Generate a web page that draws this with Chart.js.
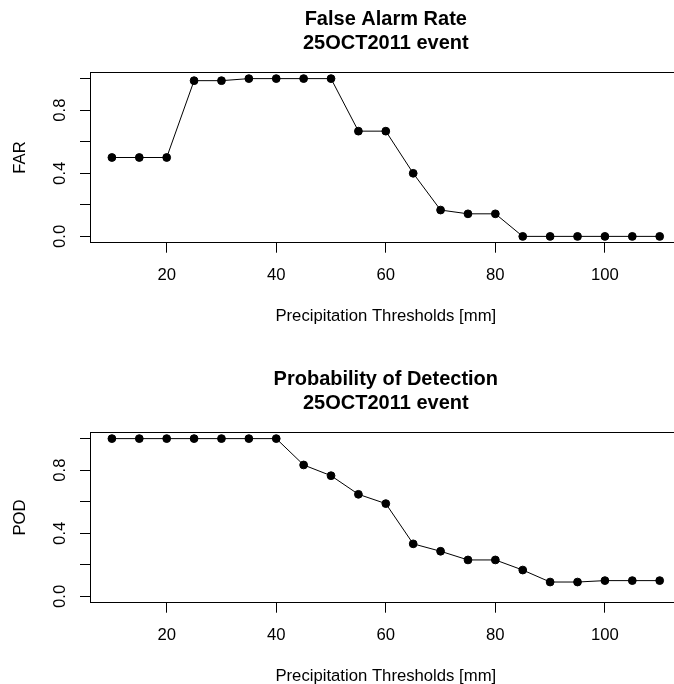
<!DOCTYPE html>
<html>
<head>
<meta charset="utf-8">
<script src="https://cdn.jsdelivr.net/npm/chart.js@4/dist/chart.umd.min.js"></script>
<style>
html,body{margin:0;padding:0;background:#fff;overflow:hidden;}
#wrap{position:relative;width:674px;height:684px;overflow:hidden;background:#fff;}
canvas{position:absolute;left:0;}
#c1{top:0;}
#c2{top:360px;}
</style>
</head>
<body>
<div id="wrap">
<canvas id="c1" width="700" height="360"></canvas>
<canvas id="c2" width="700" height="360"></canvas>
</div>
<script>
// ---- data ----
const thresholds = [10,15,20,25,30,35,40,45,50,55,60,65,70,75,80,85,90,95,100,105,110];
const farValues = [0.5,0.5,0.5,0.987,0.987,1,1,1,1,0.667,0.667,0.4,0.167,0.143,0.143,0,0,0,0,0,0];
const podValues = [1,1,1,1,1,1,1,0.833,0.765,0.647,0.588,0.333,0.286,0.231,0.231,0.167,0.091,0.091,0.1,0.1,0.1];
const xTickValues = [20,40,60,80,100];
const xTickLabels = ["20","40","60","80","100"];
const yTickValues = [0,0.2,0.4,0.6,0.8,1.0];
const yTickLabels = ["0.0","","0.4","","0.8",""];
const xAxisTitle = "Precipitation Thresholds [mm]";

const FONT = '"Liberation Sans", Arial, Helvetica, sans-serif';

const textPlugin = {
  id: 'rtext',
  afterDraw(chart, args, opts) {
    const ctx = chart.ctx;
    const ca = chart.chartArea;
    const xs = chart.scales.x, ys = chart.scales.y;
    ctx.save();
    // box (top edge; left and bottom come from the axes, right edge lies beyond the visible page)
    ctx.strokeStyle = '#000';
    ctx.lineWidth = 1;
    ctx.beginPath();
    const ty = Math.round(ca.top) + 0.5;
    ctx.moveTo(Math.round(ca.left), ty);
    ctx.lineTo(Math.round(ca.right), ty);
    ctx.lineTo(Math.round(ca.right), Math.round(ca.bottom));
    ctx.stroke();
    ctx.fillStyle = '#000';
    const cx = (ca.left + ca.right) / 2;
    // titles
    ctx.font = 'bold 20px ' + FONT;
    ctx.textAlign = 'center';
    ctx.textBaseline = 'alphabetic';
    ctx.fillText(opts.title1, cx, 25);
    ctx.fillText(opts.title2, cx, 49);
    // x tick labels
    ctx.font = '16.7px ' + FONT;
    xs.ticks.forEach((t, i) => {
      const idx = xTickValues.indexOf(t.value);
      const lab = idx >= 0 ? xTickLabels[idx] : '';
      if (lab) ctx.fillText(lab, xs.getPixelForValue(t.value), ca.bottom + 37.5);
    });
    // x axis title
    ctx.fillText(xAxisTitle, cx, ca.bottom + 78.5);
    // y tick labels (rotated)
    ys.ticks.forEach(t => {
      const idx = yTickValues.findIndex(v => Math.abs(v - t.value) < 1e-9);
      const lab = idx >= 0 ? yTickLabels[idx] : '';
      if (!lab) return;
      ctx.save();
      ctx.translate(ca.left - 25, ys.getPixelForValue(t.value));
      ctx.rotate(-Math.PI/2);
      ctx.fillText(lab, 0, 0);
      ctx.restore();
    });
    // y axis title
    ctx.save();
    ctx.translate(ca.left - 65, (ca.top + ca.bottom) / 2);
    ctx.rotate(-Math.PI/2);
    ctx.fillText(opts.ytitle, 0, 0);
    ctx.restore();
    ctx.restore();
  }
};

function makeChart(id, values, title1, title2, ytitle) {
  return new Chart(document.getElementById(id), {
    type: 'line',
    data: {
      datasets: [{
        data: thresholds.map((x, i) => ({x: x, y: values[i]})),
        borderColor: '#000',
        borderWidth: 1,
        backgroundColor: '#000',
        pointBackgroundColor: '#000',
        pointBorderColor: '#000',
        pointBorderWidth: 1,
        pointRadius: 3.9,
        tension: 0,
        fill: false
      }]
    },
    options: {
      responsive: false,
      animation: false,
      devicePixelRatio: 1,
      layout: { padding: { top: 72.3, right: 18.4, left: 0, bottom: 0 } },
      plugins: {
        legend: { display: false },
        tooltip: { enabled: false },
        title: { display: false },
        rtext: { title1: title1, title2: title2, ytitle: ytitle }
      },
      scales: {
        x: {
          type: 'linear',
          min: 6, max: 114,
          afterBuildTicks: s => { s.ticks = xTickValues.map(v => ({value: v})); },
          afterFit: s => { s.height = 117.3; },
          ticks: { display: false },
          grid: { drawOnChartArea: false, drawTicks: true, tickLength: 10, color: '#000', lineWidth: 1 },
          border: { display: true, color: '#000', width: 1 }
        },
        y: {
          type: 'linear',
          min: -0.04, max: 1.04,
          afterBuildTicks: s => { s.ticks = yTickValues.map(v => ({value: v})); },
          afterFit: s => { s.width = 90; },
          ticks: { display: false },
          grid: { drawOnChartArea: false, drawTicks: true, tickLength: 10, color: '#000', lineWidth: 1 },
          border: { display: true, color: '#000', width: 1 }
        }
      }
    },
    plugins: [textPlugin]
  });
}

makeChart('c1', farValues, 'False Alarm Rate', '25OCT2011 event', 'FAR');
makeChart('c2', podValues, 'Probability of Detection', '25OCT2011 event', 'POD');
</script>
</body>
</html>
